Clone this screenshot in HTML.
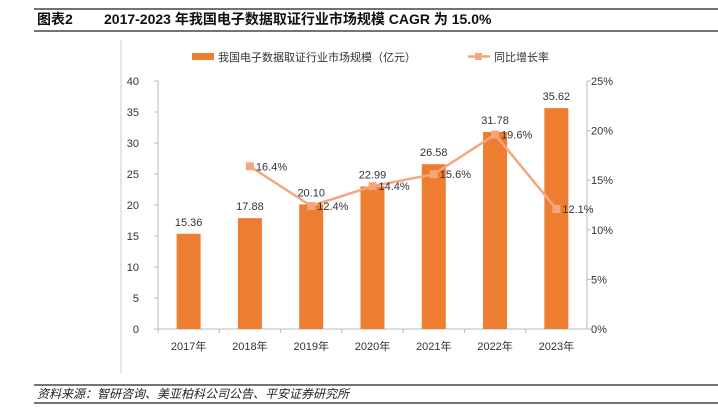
<!DOCTYPE html>
<html><head><meta charset="utf-8"><style>
body{margin:0;background:#fff;width:718px;height:409px;overflow:hidden;font-family:"Liberation Sans","Noto Sans CJK SC",sans-serif}
svg text{font-family:"Liberation Sans","Noto Sans CJK SC",sans-serif}
</style></head><body>
<svg width="718" height="409">
<line x1="34" y1="9" x2="718" y2="9" stroke="#444" stroke-width="1.5"/>
<text x="37" y="24" font-size="14" font-weight="bold" fill="#111">图表2</text>
<text x="104" y="24" font-size="14" font-weight="bold" fill="#111">2017-2023 年我国电子数据取证行业市场规模 CAGR 为 15.0%</text>
<line x1="34" y1="31" x2="718" y2="31" stroke="#222" stroke-width="1.2"/>
<line x1="121" y1="40" x2="121" y2="373" stroke="#ccc"/>
<rect x="192" y="53" width="22" height="7" fill="#ED7D31"/>
<text x="218" y="61" font-size="11" fill="#333">我国电子数据取证行业市场规模（亿元）</text>
<line x1="468" y1="56.5" x2="490" y2="56.5" stroke="#F4A77A" stroke-width="2.5"/>
<rect x="475" y="53" width="7" height="7" fill="#F4A77A"/>
<text x="494" y="61" font-size="11" fill="#333">同比增长率</text>
<g id="axes"></g><g id="bars"></g><g id="line"></g>
<line x1="34" y1="385" x2="718" y2="385" stroke="#222" stroke-width="1.2"/>
<text x="37" y="398" font-size="12" font-style="italic" fill="#222">资料来源：智研咨询、美亚柏科公司公告、平安证券研究所</text>
<line x1="34" y1="403" x2="718" y2="403" stroke="#222" stroke-width="1.2"/>
</svg>
<script>
const categories=["2017年","2018年","2019年","2020年","2021年","2022年","2023年"];
const marketSize=[15.36,17.88,20.10,22.99,26.58,31.78,35.62];
const growth=[null,16.4,12.4,14.4,15.6,19.6,12.1];
const leftTicks=[0,5,10,15,20,25,30,35,40];
const rightTicks=[0,5,10,15,20,25];
const NS="http://www.w3.org/2000/svg";
const X0=158,X1=587,Y0=329,Y1=81;
const step=(X1-X0)/categories.length;
const xc=i=>X0+step*(i+0.5);
const yL=v=>Y0-(v/40)*(Y0-Y1);
const yR=v=>Y0-(v/25)*(Y0-Y1);
function mk(tag,attrs,parent,text){const e=document.createElementNS(NS,tag);for(const k in attrs)e.setAttribute(k,attrs[k]);if(text!=null)e.textContent=text;parent.appendChild(e);return e;}
const ax=document.getElementById('axes'),bg=document.getElementById('bars'),lg=document.getElementById('line');
let e;
e=mk('line',{x1:X0,y1:Y1,x2:X0,y2:Y0,stroke:'#bbb'},ax);


e=mk('line',{x1:X1,y1:Y1,x2:X1,y2:Y0,stroke:'#bbb'},ax);


e=mk('line',{x1:X0,y1:Y0,x2:X1,y2:Y0,stroke:'#bbb'},ax);


leftTicks.forEach(v=>{
 mk('line',{x1:X0-4,y1:yL(v),x2:X0,y2:yL(v),stroke:'#bbb'},ax);
 e=mk('text',{x:139,y:yL(v)+4,'font-size':11,fill:'#333','text-anchor':'end'},ax,v);
 
 
});
rightTicks.forEach(v=>{
 mk('line',{x1:X1,y1:yR(v),x2:X1+4,y2:yR(v),stroke:'#bbb'},ax);
 e=mk('text',{x:591,y:yR(v)+4,'font-size':11,fill:'#333'},ax,v+'%');
 
 
});
categories.forEach((c,i)=>{
 mk('line',{x1:X0+step*i,y1:Y0,x2:X0+step*i,y2:Y0+4,stroke:'#bbb'},ax);
 e=mk('text',{x:xc(i),y:350,'font-size':11,fill:'#333','text-anchor':'middle'},ax,c);
 
 
 const v=marketSize[i];
 e=mk('rect',{x:xc(i)-12,y:yL(v),width:24,height:Y0-yL(v),fill:'#ED7D31'},bg);
 
 
 e=mk('text',{x:xc(i),y:yL(v)-8,'font-size':11,fill:'#333','text-anchor':'middle'},bg,v.toFixed(2));
 
 
});
const pts=growth.map((g,i)=>g==null?null:[xc(i),yR(g)]).filter(p=>p);
e=mk('polyline',{points:pts.map(p=>p.join(',')).join(' '),fill:'none',stroke:'#F4A77A','stroke-width':2.5},lg);


growth.forEach((g,i)=>{
 if(g==null)return;
 e=mk('rect',{x:xc(i)-4,y:yR(g)-4,width:8,height:8,fill:'#F4A77A'},lg);
 
 
 e=mk('text',{x:xc(i)+6,y:yR(g)+4,'font-size':11,fill:'#333'},lg,g.toFixed(1)+'%');
 
 
});
</script>
</body></html>
